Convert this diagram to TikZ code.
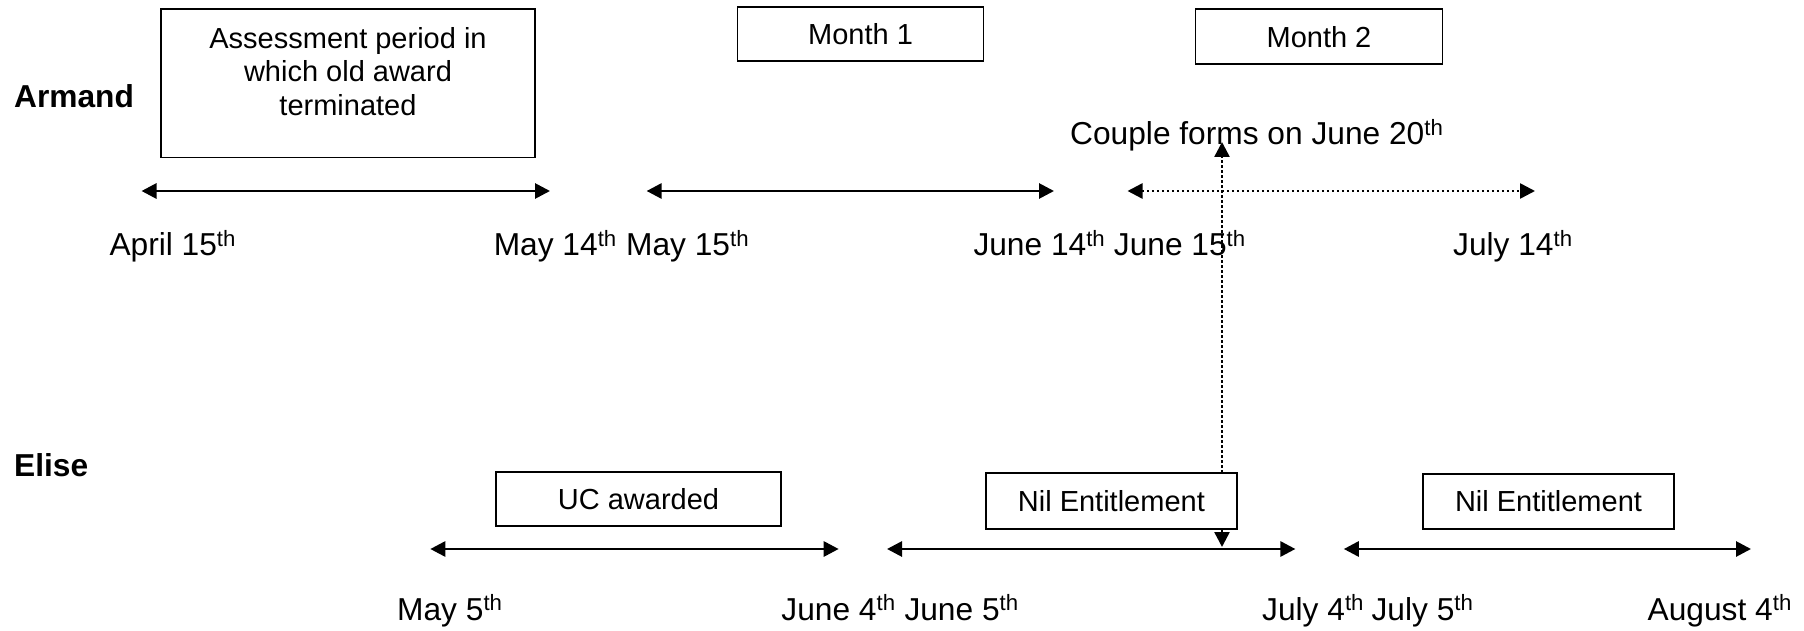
\documentclass[tikz,border=0pt]{standalone}
\usepackage{fontspec}
\setmainfont{Liberation Sans}
\usetikzlibrary{arrows.meta}
\begin{document}
\begin{tikzpicture}[x=1pt,y=-1pt,
  every node/.style={font=\fontsize{29}{33.4}\selectfont, inner sep=0pt},
  frame/.style={draw=black, line width=1.7pt, fill=white},
  who/.style={font=\fontsize{31.7}{36}\selectfont\bfseries, anchor=base west},
  datel/.style={font=\fontsize{31.7}{36}\selectfont, anchor=base west},
  tip/.tip={Triangle[length=15pt,width=15pt]},
  span/.style={line width=2.8pt, tip-tip},
  dspan/.style={line width=2.5pt, dash pattern=on 2.5pt off 2.5pt, tip-tip}
]
\useasboundingbox (0,0) rectangle (1804,631);

% labels
\node[who] (armand) at (14,108) {Armand};
\node[who] (elise) at (14,476) {Elise};

% Armand row boxes
\node[frame, minimum width=374pt, minimum height=148.4pt] (assessbox) at (348,83.4) {};
\node[align=center] (assesstxt) at (348,71.3) {Assessment period in\\which old award\\terminated};
\node[frame, minimum width=246pt, minimum height=54pt] (m1) at (860.6,34) {Month 1};
\node[frame, minimum width=247pt, minimum height=55pt] (m2) at (1319,36.8) {Month 2};
\node[datel] (couple) at (1070,144.9) {Couple forms on June 20\textsuperscript{th}};

% Armand row spans
\coordinate (a1l) at (141.5,191); \coordinate (a1r) at (550,191);
\coordinate (a2l) at (646.6,191); \coordinate (a2r) at (1054,191);
\coordinate (a3l) at (1127.5,191); \coordinate (a3r) at (1535,191);
\draw[span] (a1l) -- (a1r);
\draw[span] (a2l) -- (a2r);
\draw[dspan] (a3l) -- (a3r);

% Armand row dates
\node[datel] (d1) at (109.3,255.2) {April 15\textsuperscript{th}};
\node[datel] (d2) at (493.6,255.2) {May 14\textsuperscript{th}};
\node[datel] (d3) at (626,255.2) {May 15\textsuperscript{th}};
\node[datel] (d4) at (973.3,255.2) {June 14\textsuperscript{th}};
\node[datel] (d5) at (1113.7,255.2) {June 15\textsuperscript{th}};
\node[datel] (d6) at (1453,255.2) {July 14\textsuperscript{th}};

% vertical link (June 20th)
\coordinate (j20top) at (1222,142);
\coordinate (j20bot) at (1222,547);
\draw[dspan] (j20bot) -- (j20top);

% Elise row boxes
\node[frame, minimum width=285pt, minimum height=54pt] (uc) at (638.5,498.7) {UC awarded};
\node[frame, minimum width=251pt, minimum height=56pt] (nil1) at (1111.4,501) {Nil Entitlement};
\node[frame, minimum width=251pt, minimum height=55pt] (nil2) at (1548.5,501.6) {Nil Entitlement};

% Elise row spans
\coordinate (b1l) at (430.3,549); \coordinate (b1r) at (838.7,549);
\coordinate (b2l) at (887,549); \coordinate (b2r) at (1295.4,549);
\coordinate (b3l) at (1343.8,549); \coordinate (b3r) at (1751,549);
\draw[span] (b1l) -- (b1r);
\draw[span] (b2l) -- (b2r);
\draw[span] (b3l) -- (b3r);

% Elise row dates
\node[datel] (e1) at (397,620) {May 5\textsuperscript{th}};
\node[datel] (e2) at (781.2,620) {June 4\textsuperscript{th}};
\node[datel] (e3) at (904.3,620) {June 5\textsuperscript{th}};
\node[datel] (e4) at (1262,620) {July 4\textsuperscript{th}};
\node[datel] (e5) at (1371.4,620) {July 5\textsuperscript{th}};
\node[datel] (e6) at (1647.5,620) {August 4\textsuperscript{th}};
\end{tikzpicture}
\end{document}
